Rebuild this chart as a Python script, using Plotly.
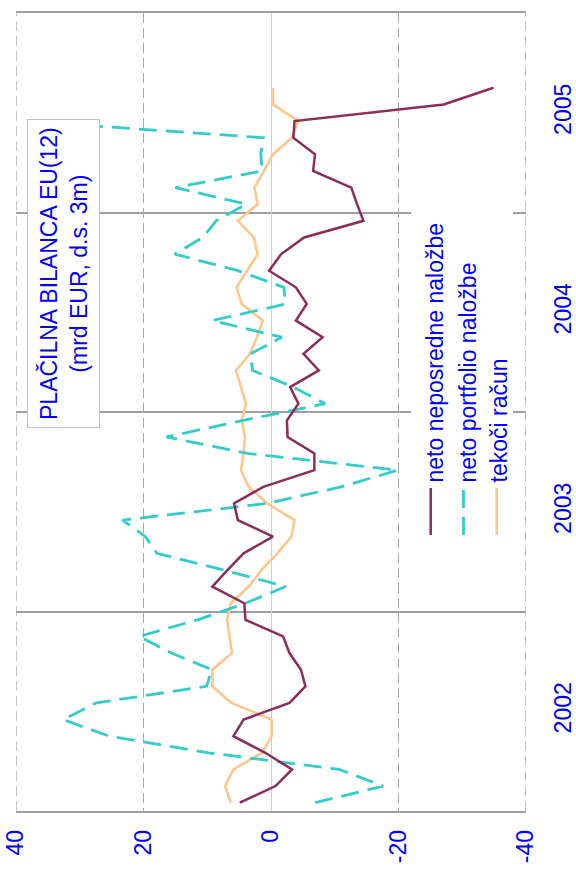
import plotly.graph_objects as go
import pandas as pd

# ---- data (monthly, 3-month sums, bn EUR) ----
months = [p.strftime('%Y-%m') for p in pd.period_range('2002-01', '2005-08', freq='M')]

fdi = [4.9, -0.7, -3.3, 0.9, 5.9, 4.3, -2.9, -5.4, -4.7, -2.9, -1.9, 4.0,
       4.2, 9.2, 6.8, 4.3, -0.3, 5.2, 5.8, 1.2, -6.8, -6.8, -2.6, -2.5,
       -4.3, -3.0, -7.5, -5.1, -8.1, -3.9, -5.6, -3.9, 0.3, -1.6, -5.2, -14.5,
       -13.5, -12.6, -6.6, -6.9, -3.5, -3.7, -27.1, -34.9]

portfolio = [-6.9, -17.6, -10.7, 9.8, 25.4, 32.6, 27.4, 10.1, 9.3, 15.6, 20.7, 11.5,
             4.0, -2.3, 7.5, 17.9, 19.7, 23.3, 0.6, -11.0, -19.9, 3.5, 16.4, 4.3,
             -8.5, -3.5, 2.9, 3.2, -1.7, 9.2, -2.3, -2.0, 5.2, 15.1, 10.7, 8.6,
             3.9, 15.0, 1.4, 1.6, 1.2, 38.9]

current = [6.3, 7.2, 5.9, 1.4, -0.1, -0.1, 6.2, 9.2, 9.2, 6.1, 6.5, 6.9,
           6.3, 3.5, 1.5, -1.0, -3.2, -3.7, 0.6, 3.5, 4.7, 4.3, 4.1, 4.6,
           3.9, 4.7, 5.5, 3.3, 2.2, 1.3, 4.6, 5.4, 3.7, 2.1, 2.7, 5.2,
           2.1, 2.6, 1.1, -0.3, -3.3, -4.3, -0.3, -0.3]

series_names = ["neto neposredne naložbe", "neto portfolio naložbe", "tekoči račun"]
years = ["2002", "2003", "2004", "2005"]
value_ticks = [40, 20, 0, -20, -40]
title_text = "PLAČILNA BILANCA EU(12)<br>(mrd EUR, d.s. 3m)"

# ---- styling ----
FONT = "Liberation Sans, Arial, sans-serif"
BLUE = "#0000FF"
C_FDI = "#8C2C5C"
C_PORT = "#33CCCC"
C_CUR = "#FFC68C"

W, H = 576, 869
PL, PR, PT, PB = 16, 526, 13, 811          # plot area in page pixels
L, T, R, B = PL, PT, W - PR, H - PB
PW, PH = PR - PL, PB - PT


def px(xp):
    return (xp - PL) / PW


def py(yp):
    return (PB - yp) / PH


idx_fdi = list(range(len(fdi)))
idx_port = list(range(len(portfolio)))
idx_cur = list(range(len(current)))

fig = go.Figure()
fig.add_trace(go.Scatter(x=current, y=idx_cur, mode="lines", name=series_names[2],
                         line=dict(color=C_CUR, width=2.6)))
fig.add_trace(go.Scatter(x=portfolio, y=idx_port, mode="lines", name=series_names[1],
                         line=dict(color=C_PORT, width=2.8, dash="18px,9px")))
fig.add_trace(go.Scatter(x=fdi, y=idx_fdi, mode="lines", name=series_names[0],
                         line=dict(color=C_FDI, width=2.5)))

n_total = len(years) * 12
year_mid = [i * 12 + 5.5 for i in range(len(years))]
year_bounds = [i * 12 - 0.5 for i in range(1, len(years))]

fig.update_layout(
    width=W, height=H,
    margin=dict(l=L, r=R, t=T, b=B, pad=0, autoexpand=False),
    paper_bgcolor="white", plot_bgcolor="white",
    showlegend=False,
    font=dict(family=FONT, color=BLUE, size=23),
    xaxis=dict(
        range=[40, -40], tickvals=value_ticks, ticktext=[str(v) for v in value_ticks],
        tickangle=-90, tickfont=dict(size=23, color=BLUE, family=FONT),
        ticks="", ticklabelstandoff=8, automargin=False, ticklabeloverflow="allow",
        showgrid=True, gridcolor="#a8a8a8", griddash="10px,5px", gridwidth=1.3,
        zeroline=True, zerolinecolor="#cfcfcf", zerolinewidth=1.2,
        showline=True, mirror=True, linecolor="#a0a0a0", linewidth=1.5,
    ),
    yaxis=dict(
        range=[-0.5, n_total - 0.5], side="right",
        tickvals=year_mid, ticktext=years, tickangle=-90,
        tickfont=dict(size=23, color=BLUE, family=FONT),
        ticks="", ticklabelstandoff=21, automargin=False, ticklabeloverflow="allow",
        showgrid=False, zeroline=False, showline=False,
        minor=dict(tickvals=year_bounds, showgrid=True, gridcolor="#a0a0a0",
                   gridwidth=1.5, ticks=""),
    ),
)

# dashed border gridlines at +-40 (grid at range ends is clipped by plotly)
for v in (value_ticks[0], value_ticks[-1]):
    fig.add_shape(type="line", xref="x", yref="paper", x0=v, x1=v, y0=0, y1=1,
                  line=dict(color="#a8a8a8", width=1.3, dash="10px,5px"), layer="below")

# legend background box (covers gridlines)
fig.add_shape(type="rect", xref="paper", yref="paper",
              x0=px(411), x1=px(513), y0=py(545), y1=py(200),
              fillcolor="white", line=dict(width=0), layer="above")

# title box
fig.add_annotation(x=px(63.5), y=py(273.5), xref="paper", yref="paper",
                   text=title_text, textangle=-90, showarrow=False,
                   xanchor="center", yanchor="middle",
                   font=dict(size=23, color=BLUE, family=FONT),
                   bgcolor="white", bordercolor="#c0c0c0", borderwidth=1, borderpad=7)

# rotated legend
leg_x_text = [434.5, 467.5, 498.5]
leg_x_line = [430.7, 463.5, 496.7]
leg_colors = [C_FDI, C_PORT, C_CUR]
leg_dash = ["solid", "18px,9px", "solid"]
leg_width = [2.5, 2.8, 2.6]
for name, xt, xl, c, d, w in zip(series_names, leg_x_text, leg_x_line, leg_colors, leg_dash, leg_width):
    fig.add_annotation(x=px(xt), y=py(485), xref="paper", yref="paper",
                       text=name, textangle=-90, showarrow=False,
                       xanchor="center", yanchor="bottom",
                       font=dict(size=23, color=BLUE, family=FONT))
    fig.add_shape(type="line", xref="paper", yref="paper",
                  x0=px(xl), x1=px(xl), y0=py(535), y1=py(488),
                  line=dict(color=c, width=w, dash=d), layer="above")

fig.write_html("out.html", config={"displayModeBar": False},
               post_script="document.body.style.margin='0';")
